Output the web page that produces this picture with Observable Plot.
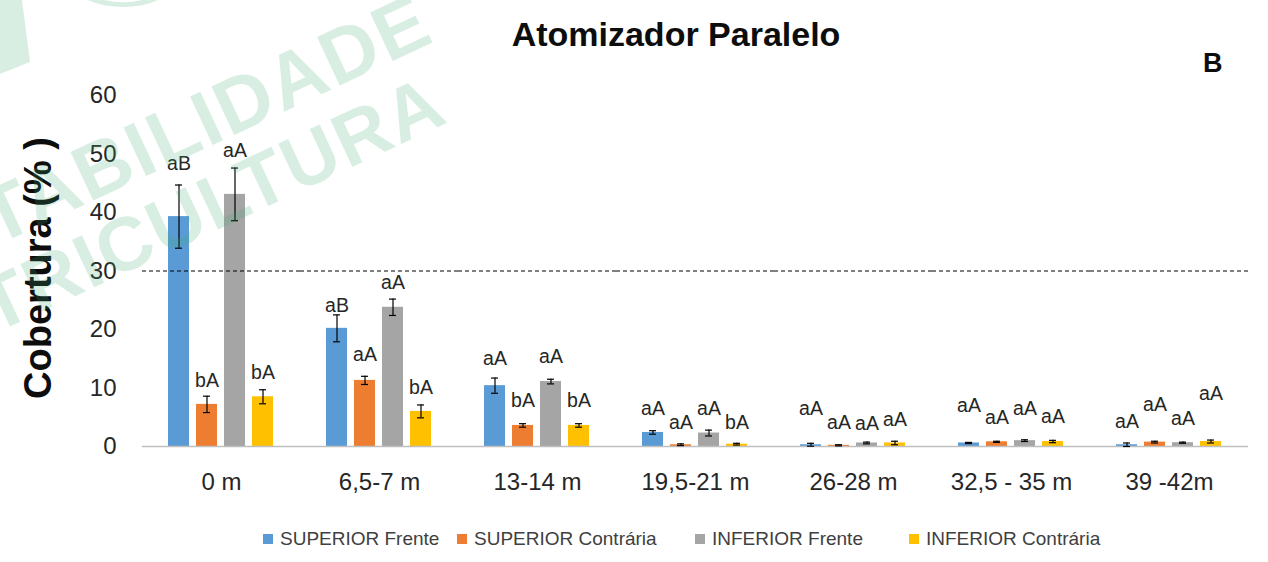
<!DOCTYPE html>
<html>
<head>
<meta charset="utf-8">
<script src="https://cdn.jsdelivr.net/npm/d3@7"></script>
<script src="https://cdn.jsdelivr.net/npm/@observablehq/plot@0.6"></script>
<style>
  html, body { margin: 0; padding: 0; background: #ffffff; }
  #wrap { position: relative; width: 1268px; height: 562px; overflow: hidden; font-family: "Liberation Sans", Arial, sans-serif; color: #262626; }
  #title { position: absolute; left: 0; width: 1352px; top: 15px; text-align: center; font-weight: bold; font-size: 34px; color: #0d0d0d; }
  #panel { position: absolute; left: 1203px; top: 48px; font-weight: bold; font-size: 27px; color: #0d0d0d; }
  #ylabel { position: absolute; left: 38px; top: 268px; transform: translate(-50%, -50%) rotate(-90deg); white-space: nowrap; font-weight: bold; font-size: 38px; color: #0d0d0d; }
  #chart { position: absolute; left: 0; top: 0; }
  #legend { position: absolute; left: 0; top: 528px; width: 1268px; height: 22px; font-size: 19px; color: #404040; white-space: nowrap; }
  .item { position: absolute; top: 0; display: flex; align-items: center; height: 22px; }
  .sw { width: 10px; height: 10px; margin-right: 7px; }
  #wm { position: absolute; left: 0; top: 0; pointer-events: none; }
</style>
</head>
<body>
<div id="wrap">
  <div id="chart"></div>
  <div id="title">Atomizador Paralelo</div>
  <div id="panel">B</div>
  <div id="ylabel">Cobertura (% )</div>
  <div id="legend"></div>
</div>
<script>
// ---- data ----
const categories = ["0 m", "6,5-7 m", "13-14 m", "19,5-21 m", "26-28 m", "32,5 - 35 m", "39 -42m"];
const seriesNames = ["SUPERIOR Frente", "SUPERIOR Contrária", "INFERIOR Frente", "INFERIOR Contrária"];
const seriesColors = ["#5b9bd5", "#ed7d31", "#a5a5a5", "#ffc000"];

const supFrente       = [39.3, 20.2, 10.4, 2.4, 0.3, 0.6, 0.3];
const supFrenteErr    = [5.4, 2.3, 1.3, 0.3, 0.25, 0.1, 0.3];
const supContraria    = [7.2, 11.3, 3.6, 0.3, 0.2, 0.8, 0.75];
const supContrariaErr = [1.4, 0.7, 0.3, 0.15, 0.1, 0.1, 0.15];
const infFrente       = [43.1, 23.8, 11.1, 2.3, 0.6, 1.0, 0.65];
const infFrenteErr    = [4.5, 1.4, 0.4, 0.5, 0.15, 0.15, 0.1];
const infContraria    = [8.5, 6.0, 3.6, 0.4, 0.6, 0.85, 0.85];
const infContrariaErr = [1.2, 1.1, 0.3, 0.15, 0.3, 0.2, 0.25];

const supFrenteSig    = ["aB", "aB", "aA", "aA", "aA", "aA", "aA"];
const supContrariaSig = ["bA", "aA", "bA", "aA", "aA", "aA", "aA"];
const infFrenteSig    = ["aA", "aA", "aA", "aA", "aA", "aA", "aA"];
const infContrariaSig = ["bA", "bA", "bA", "bA", "aA", "aA", "aA"];

// height (in % units) at which each letter label sits in the reference
const supFrenteLab    = [48.4, 24.1, 15.0, 6.5, 6.5, 7.0, 4.3];
const supContrariaLab = [11.3, 15.6, 7.9, 4.1, 4.1, 5.0, 7.2];
const infFrenteLab    = [50.6, 28.0, 15.4, 6.5, 3.9, 6.5, 4.8];
const infContrariaLab = [12.6, 10.1, 7.9, 4.1, 4.6, 5.1, 9.1];

const yTicks = [0, 10, 20, 30, 40, 50, 60];
const reference = [30];

// ---- table built from the arrays ----
const values = [supFrente, supContraria, infFrente, infContraria];
const errs = [supFrenteErr, supContrariaErr, infFrenteErr, infContrariaErr];
const sigs = [supFrenteSig, supContrariaSig, infFrenteSig, infContrariaSig];
const labs = [supFrenteLab, supContrariaLab, infFrenteLab, infContrariaLab];
const data = [];
categories.forEach((c, i) => {
  seriesNames.forEach((s, j) => {
    data.push({cat: c, series: s, value: values[j][i], err: errs[j][i], sig: sigs[j][i], lab: labs[j][i]});
  });
});

const font = "'Liberation Sans', Arial, sans-serif";
const chart = Plot.plot({
  width: 1268,
  height: 510,
  marginTop: 95,
  marginBottom: 64,
  marginLeft: 141,
  marginRight: 19,
  style: {fontFamily: font, background: "transparent", overflow: "visible"},
  fx: {domain: categories, padding: 0, label: null},
  x: {domain: seriesNames, paddingInner: 0.24, paddingOuter: 0.85, axis: null},
  y: {domain: [0, 60], label: null},
  color: {domain: seriesNames, range: seriesColors},
  marks: [
    Plot.barY(data, {fx: "cat", x: "series", y: "value", fill: "series"}),
    Plot.ruleY([0], {stroke: "#bfbfbf", strokeWidth: 1.5}),
    Plot.axisY({ticks: yTicks, tickSize: 0, tickPadding: 26, fontSize: 24, fill: "#262626", stroke: "#a6a6a6", line: true, label: null, tickFormat: d => String(d)}),
    Plot.axisFx({anchor: "bottom", tickSize: 0, tickPadding: 26, fontSize: 24, fill: "#262626", label: null}),
    Plot.ruleX(data, {fx: "cat", x: "series", y1: d => d.value - d.err, y2: d => d.value + d.err, stroke: "#000", strokeWidth: 1.2}),
    Plot.tickY(data, {fx: "cat", x: "series", y: d => d.value - d.err, stroke: "#000", strokeWidth: 1.2, insetLeft: 7, insetRight: 7}),
    Plot.tickY(data, {fx: "cat", x: "series", y: d => d.value + d.err, stroke: "#000", strokeWidth: 1.2, insetLeft: 7, insetRight: 7}),
    Plot.ruleY(reference, {stroke: "#000", strokeDasharray: "4,3", strokeWidth: 1}),
    Plot.text(data, {fx: "cat", x: "series", y: "lab", text: "sig", fontSize: 19.5, fill: "#262626"})
  ]
});
document.getElementById("chart").appendChild(chart);

// ---- legend ----
const legend = d3.select("#legend");
const legendLeft = [263, 457, 695, 909];
seriesNames.forEach((s, j) => {
  const it = legend.append("div").attr("class", "item").style("left", legendLeft[j] + "px");
  it.append("div").attr("class", "sw").style("background", seriesColors[j]);
  it.append("span").text(s);
});

// ---- faint watermark ----
const wm = d3.select("#wrap").append("svg").attr("id", "wm").attr("width", 1268).attr("height", 562);
const wmFill = "rgba(60,170,110,0.2)";
wm.append("path").attr("d", "M0,0 L22,0 L30,62 L0,74 Z").attr("fill", wmFill);
wm.append("path").attr("d", "M88,0 A48,22 0 0 0 158,0 L142,0 A34,12 0 0 1 104,0 Z").attr("fill", wmFill);
wm.append("text").text("TABILIDADE")
  .attr("transform", "translate(-4,246) rotate(-25)")
  .attr("font-family", font).attr("font-weight", "bold").attr("font-size", 78)
  .attr("letter-spacing", 2).attr("fill", wmFill);
wm.append("text").text("TRICULTURA")
  .attr("transform", "translate(-6,334) rotate(-25)")
  .attr("font-family", font).attr("font-weight", "bold").attr("font-size", 76)
  .attr("letter-spacing", 2).attr("fill", wmFill);
</script>
</body>
</html>
